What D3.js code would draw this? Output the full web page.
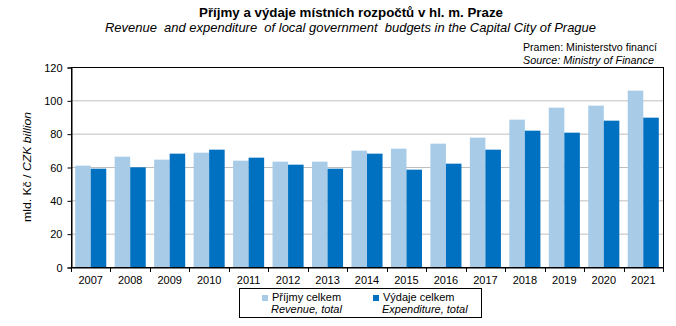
<!DOCTYPE html>
<html><head><meta charset="utf-8">
<script src="https://cdn.jsdelivr.net/npm/d3@7"></script>
<style>
body{margin:0;background:#fff;}
text{font-family:Arial,"Liberation Sans",sans-serif;fill:#000;}
</style></head>
<body><svg id="c" width="676" height="326"></svg>
<script>
const years = ["2007","2008","2009","2010","2011","2012","2013","2014","2015","2016","2017","2018","2019","2020","2021"];
const revenue = [60.8,66.2,64.4,68.6,63.8,63.2,63.2,69.8,71.0,74.0,77.6,88.4,95.6,96.8,105.8];
const expenditure = [59.0,59.8,68.0,70.4,65.6,61.4,59.0,68.0,58.4,62.0,70.4,81.8,80.6,87.8,89.6];
const yTicks = [0,20,40,60,80,100,120];
const seriesNames = ["Příjmy celkem","Výdaje celkem"];
const seriesNamesEn = ["Revenue, total","Expenditure, total"];
const colors = ["#a8cce8","#0070c0"];

const svg = d3.select("#c");
const L=71, R=663, T=67, B=267;

const x = d3.scaleBand().domain(years).range([L,R]).padding(0);
const xs = d3.scaleBand().domain([0,1]).range([0,x.bandwidth()]).paddingInner(0).paddingOuter(0.27);
const y = d3.scaleLinear().domain([0,120]).range([B,T]);

// gridlines
svg.append("g").selectAll("line").data(yTicks.filter(v=>v>0&&v<120)).join("line")
  .attr("x1",L).attr("x2",R).attr("y1",d=>y(d)+0.5).attr("y2",d=>y(d)+0.5)
  .attr("stroke","#bfbfbf").attr("stroke-width",1);

// bars
const data = years.map((yr,i)=>({yr, v:[revenue[i],expenditure[i]]}));
const g = svg.append("g");
data.forEach(d=>{
  d.v.forEach((v,k)=>{
    g.append("rect").attr("x",x(d.yr)+xs(k)).attr("width",xs.bandwidth())
     .attr("y",y(v)).attr("height",B-y(v)).attr("fill",colors[k]);
  });
});

// frame top/right
svg.append("rect").attr("x",L+0.5).attr("y",T+0.5).attr("width",R-L).attr("height",B-T)
  .attr("fill","none").attr("stroke","#000").attr("stroke-width",1);

// y axis
const yAxis = svg.append("g").attr("transform",`translate(${L+0.5},0.5)`)
  .call(d3.axisLeft(y).tickValues(yTicks).tickSize(4).tickPadding(5));
yAxis.select(".domain").attr("stroke","#000");
yAxis.selectAll("text").style("font-size","11px").attr("fill","#000").style("font-family","Arial, 'Liberation Sans', sans-serif");

// x axis
const xAxis = svg.append("g").attr("transform",`translate(0,${B+0.5})`)
  .call(d3.axisBottom(x).tickSize(0).tickPadding(9));
xAxis.select(".domain").attr("stroke","#000");
xAxis.selectAll("text").style("font-size","11px").attr("fill","#000").style("font-family","Arial, 'Liberation Sans', sans-serif");
svg.append("g").selectAll("line").data(years.concat(["end"])).join("line")
  .attr("x1",(d,i)=>Math.round(L+i*x.step())+0.5).attr("x2",(d,i)=>Math.round(L+i*x.step())+0.5)
  .attr("y1",B).attr("y2",B+5).attr("stroke","#000");

// titles
svg.append("text").attr("x",351).attr("y",17).attr("text-anchor","middle")
  .style("font-size","13px").style("font-weight","bold")
  .attr("textLength",304).attr("lengthAdjust","spacingAndGlyphs")
  .text("Příjmy a výdaje místních rozpočtů v hl. m. Praze");
svg.append("text").attr("x",350.5).attr("y",32).attr("text-anchor","middle")
  .style("font-size","13px").style("font-style","italic").style("white-space","pre")
  .attr("textLength",491).attr("lengthAdjust","spacingAndGlyphs")
  .text("Revenue  and expenditure  of local government  budgets in the Capital City of Prague");
svg.append("text").attr("x",657).attr("y",51).attr("text-anchor","end")
  .style("font-size","10.5px").attr("textLength",134).attr("lengthAdjust","spacingAndGlyphs")
  .text("Pramen: Ministerstvo financí");
svg.append("text").attr("x",654).attr("y",63.5).attr("text-anchor","end")
  .style("font-size","10.5px").style("font-style","italic").attr("textLength",131).attr("lengthAdjust","spacingAndGlyphs")
  .text("Source: Ministry of Finance");

// y axis title
const yt = svg.append("text").attr("transform",`translate(31,${(T+B)/2}) rotate(-90)`)
  .attr("text-anchor","middle").style("font-size","11.5px")
  .attr("textLength",110).attr("lengthAdjust","spacingAndGlyphs");
yt.append("tspan").text("mld. Kč / ");
yt.append("tspan").style("font-style","italic").text("CZK billion");

// legend
svg.append("rect").attr("x",239.5).attr("y",288.5).attr("width",242).attr("height",29)
  .attr("fill","#fff").attr("stroke","#000").attr("stroke-width",1);
const lx = [262,373];
seriesNames.forEach((n,k)=>{
  svg.append("rect").attr("x",lx[k]).attr("y",295).attr("width",6).attr("height",6).attr("fill",colors[k]);
  svg.append("text").attr("x",lx[k]+10).attr("y",301).style("font-size","11px").text(n);
  svg.append("text").attr("x",lx[k]+9).attr("y",313).style("font-size","11px").style("font-style","italic").text(seriesNamesEn[k]);
});
</script></body></html>
